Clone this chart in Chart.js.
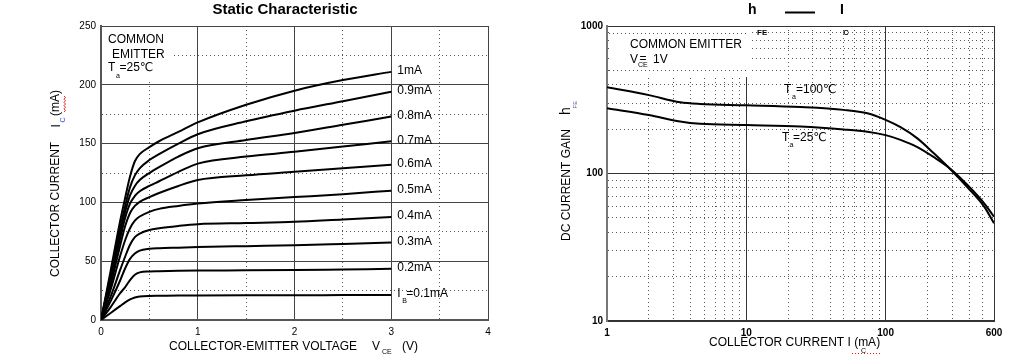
<!DOCTYPE html>
<html><head><meta charset="utf-8">
<script src="https://cdn.jsdelivr.net/npm/chart.js@4.4.1/dist/chart.umd.min.js"></script>
<style>
html,body{margin:0;padding:0;background:#fff;width:1013px;height:359px;overflow:hidden}
canvas{position:absolute;top:0}
#c1{left:0}
#c2{left:510px}
</style></head><body>
<canvas id="c1" width="510" height="359"></canvas>
<canvas id="c2" width="503" height="359"></canvas>
<script>
const FONT = "'Liberation Sans', Arial, 'DejaVu Sans', sans-serif";

// ---------- Left chart: static characteristic ----------
const vce  = [0, 0.1, 0.2, 0.25, 0.3, 0.35, 0.4, 0.5, 0.6, 0.8, 1, 1.5, 2, 2.5, 3];
const ib01 = [0, 6, 12, 15, 17.5, 19.2, 20, 20.5, 20.6, 20.8, 20.9, 21, 21, 21.2, 21.3];
const ib02 = [0, 11, 23, 28, 34, 38.5, 40.5, 41.3, 41.5, 41.8, 42, 42.2, 42.5, 43, 43.5];
const ib03 = [0, 16, 34, 44, 52, 56.5, 59, 60.5, 61, 61.5, 62, 62.8, 63.5, 64.7, 66];
const ib04 = [0, 20, 43, 54, 64, 70.5, 73.5, 76.5, 78, 80, 81.5, 82.5, 83.5, 85.5, 87.5];
const ib05 = [0, 26, 55, 68, 78, 84.5, 88, 92, 94.5, 97, 99, 102, 104.5, 107, 110];
const ib06 = [0, 30, 64, 80, 91, 97, 100.5, 104.5, 108, 114, 119, 123, 126, 129, 132];
const ib07 = [0, 34, 70, 87, 99, 105.5, 109.5, 114, 118, 126, 133, 139, 143, 147.5, 152];
const ib08 = [0, 37, 75, 92, 106, 114, 119, 125, 130, 139, 146, 153, 159, 166, 173];
const ib09 = [0, 39, 79, 97, 113, 123, 129, 136, 141, 150, 158, 169, 178, 186, 194];
const ib10 = [0, 42, 85, 104, 122, 135, 141, 147, 152, 160, 168, 183, 195, 204, 211];
const ibSeries = [ib01, ib02, ib03, ib04, ib05, ib06, ib07, ib08, ib09, ib10];
const ibLabels = ['=0.1mA', '0.2mA', '0.3mA', '0.4mA', '0.5mA', '0.6mA', '0.7mA', '0.8mA', '0.9mA', '1mA'];
const leftXLabels = [0, 1, 2, 3, 4];
const leftYLabels = [0, 50, 100, 150, 200, 250];

// ---------- Right chart: hFE vs Ic ----------
const icPts = [1, 2, 3.35, 4.66, 10, 24.5, 50, 74, 100, 128, 169, 222, 294, 387, 510, 600];
const h100  = [384, 340, 304, 296, 290, 282, 270, 256, 231, 206, 173, 137, 106, 80.6, 59.6, 46];
const h25   = [277, 249, 225, 217, 213, 208, 199, 192, 182, 169, 151, 129, 107, 83.6, 62.8, 51];
const rightXGrid = [1,2,3,4,5,6,7,8,9,10,20,30,40,50,60,70,80,90,100,200,300,400,500,600];
const rightYGrid = [10,20,30,40,50,60,70,80,90,100,200,300,400,500,600,700,800,900,1000];
const rightXLabels = [1, 10, 100, 600];
const rightYLabels = [10, 100, 1000];

const DOT = [1, 3];
function isDecade(v){ const l = Math.log10(v); return Math.abs(l - Math.round(l)) < 1e-9; }

function t(ctx, s, x, y, size, opts){
  opts = opts || {};
  ctx.save();
  ctx.font = (opts.bold ? 'bold ' : '') + size + 'px ' + FONT;
  ctx.fillStyle = opts.color || '#000';
  ctx.textAlign = opts.align || 'left';
  ctx.textBaseline = 'middle';
  ctx.fillText(s, x, y);
  ctx.restore();
}
function vt(ctx, s, x, y, size, opts){
  opts = opts || {};
  ctx.save();
  ctx.translate(x, y);
  ctx.rotate(-Math.PI/2);
  ctx.font = (opts.bold ? 'bold ' : '') + size + 'px ' + FONT;
  ctx.fillStyle = opts.color || '#000';
  ctx.textAlign = 'left';
  ctx.textBaseline = 'middle';
  ctx.fillText(s, 0, 0);
  ctx.restore();
}

const leftDecor = {
  id: 'leftDecor',
  beforeDatasetsDraw(chart){
    const ctx = chart.ctx;
    ctx.save();
    ctx.fillStyle = '#fff';
    ctx.fillRect(102, 27, 71, 55);
    ctx.restore();
  },
  afterDraw(chart){
    const ctx = chart.ctx;
    const xs = chart.scales.x, ys = chart.scales.y;
    // title
    t(ctx, 'Static Characteristic', 285, 10, 15, {bold:true, align:'center'});
    // annotation box
    t(ctx, 'COMMON', 108, 40, 12);
    t(ctx, 'EMITTER', 112, 54.5, 12);
    t(ctx, 'T', 108, 68, 12);
    t(ctx, 'a', 116, 76, 7);
    t(ctx, '=25℃', 119.5, 68, 12);
    // curve labels
    const lx = xs.getPixelForValue(vce[vce.length-1]) + 6;
    ibSeries.forEach((s, i) => {
      const y = ys.getPixelForValue(s[s.length-1]) - 1;
      if (i === 0) {
        t(ctx, 'I', lx, y, 12);
        t(ctx, 'B', lx + 5, y + 7, 7);
        t(ctx, ibLabels[i], lx + 9, y, 12);
      } else {
        t(ctx, ibLabels[i], lx, y, 12);
      }
    });
    // x axis title
    t(ctx, 'COLLECTOR-EMITTER VOLTAGE', 169, 347, 12);
    t(ctx, 'V', 372, 347, 12);
    t(ctx, 'CE', 382, 352.5, 7);
    t(ctx, '(V)', 402, 347, 12);
    // y axis title
    vt(ctx, 'COLLECTOR CURRENT', 56, 277, 12);
    vt(ctx, 'I', 57, 127.5, 12);
    vt(ctx, 'C', 63.5, 122.5, 7, {color:'#3a4fd0'});
    vt(ctx, '(mA)', 56, 116, 12);
    ctx.save();
    ctx.strokeStyle = '#e02020'; ctx.lineWidth = 1;
    ctx.beginPath();
    for (let k = 0; k <= 10; k++) {
      const yy = 112 - k * 1.6;
      const xx = 64 + (k % 2 ? 1.5 : 0);
      if (k === 0) ctx.moveTo(xx, yy); else ctx.lineTo(xx, yy);
    }
    ctx.stroke();
    ctx.restore();
  }
};

const rightDecor = {
  id: 'rightDecor',
  beforeDatasetsDraw(chart){
    const ctx = chart.ctx;
    const ys = chart.scales.y;
    ctx.save();
    ctx.translate(-510, 0);
    ctx.fillStyle = '#fff';
    ctx.fillRect(609, 27, 140, 50);
    ctx.strokeStyle = '#555';
    ctx.lineWidth = 1;
    ctx.setLineDash(DOT);
    [900, 500].forEach(v => {
      const y = Math.round(ys.getPixelForValue(v)) + 0.5;
      ctx.beginPath(); ctx.moveTo(609, y); ctx.lineTo(749, y); ctx.stroke();
    });
    ctx.restore();
  },
  afterDraw(chart){
    const ctx = chart.ctx;
    ctx.save();
    ctx.translate(-510, 0);
    // title
    t(ctx, 'h', 748, 10, 14, {bold:true});
    t(ctx, 'FE', 757, 32.5, 8, {bold:true});
    ctx.fillStyle = '#000';
    ctx.fillRect(785, 11.5, 30, 2);
    t(ctx, 'I', 840, 10, 14, {bold:true});
    t(ctx, 'C', 843, 32.5, 8, {bold:true});
    // annotations
    t(ctx, 'COMMON EMITTER', 630, 44.5, 12);
    t(ctx, 'V', 630, 60, 12);
    t(ctx, 'CE', 638, 65.5, 7);
    t(ctx, '=', 639.5, 59, 12);
    t(ctx, '1V', 653, 60, 12);
    t(ctx, 'T', 784, 90, 12);
    t(ctx, 'a', 792, 97.5, 7);
    t(ctx, '=100℃', 796, 90, 12);
    t(ctx, 'T', 782, 138, 12);
    t(ctx, 'a', 789.5, 145.5, 7);
    t(ctx, '=25℃', 793, 138, 12);
    // x axis title
    t(ctx, 'COLLECTOR CURRENT I (mA)', 709, 343, 12);
    t(ctx, 'C', 861, 351, 7);
    ctx.strokeStyle = '#e02020'; ctx.lineWidth = 1; ctx.setLineDash([1, 2]);
    ctx.beginPath(); ctx.moveTo(852, 353.5); ctx.lineTo(880, 353.5); ctx.stroke();
    ctx.setLineDash([]);
    // y axis title
    vt(ctx, 'DC CURRENT GAIN', 567, 241, 12);
    vt(ctx, 'h', 566, 115, 14);
    vt(ctx, 'FE', 575, 108.5, 6, {color:'#6a5aa8'});
    ctx.restore();
  }
};

function gridColor(isMajor){ return ctx => (ctx.tick && !isMajor(ctx.tick.value) ? '#555' : '#444'); }
function gridDash(isMajor){ return ctx => (ctx.tick && !isMajor(ctx.tick.value) ? DOT : []); }

const leftXMajor = v => Math.abs(v - Math.round(v)) < 1e-9;
const leftYMajor = v => Math.abs(v / 50 - Math.round(v / 50)) < 1e-9;

new Chart(document.getElementById('c1'), {
  type: 'line',
  data: {
    datasets: ibSeries.map((s, i) => ({
      label: ibLabels[i],
      data: vce.map((v, k) => ({x: v, y: s[k]})),
      borderColor: '#000',
      borderWidth: 2,
      pointRadius: 0,
      fill: false,
      cubicInterpolationMode: 'monotone'
    }))
  },
  options: {
    responsive: false,
    animation: false,
    devicePixelRatio: 1,
    layout: {padding: {top: 26, right: 22, left: 0, bottom: 0}},
    plugins: {legend: {display: false}, tooltip: {enabled: false}},
    scales: {
      x: {
        type: 'linear', min: 0, max: 4,
        afterFit: s => { s.height = 39; },
        ticks: {stepSize: 0.5, autoSkip: false, maxRotation: 0, padding: 6, color: '#000',
          font: {family: FONT, size: 10},
          callback: v => leftXLabels.includes(v) ? String(v) : ''},
        grid: {drawTicks: false, color: gridColor(leftXMajor), lineWidth: 1},
        border: {display: true, color: '#555', width: 2, dash: gridDash(leftXMajor)}
      },
      y: {
        type: 'linear', min: 0, max: 250,
        afterFit: s => { s.width = 101; },
        ticks: {stepSize: 25, autoSkip: false, padding: 5, color: '#000',
          font: {family: FONT, size: 10},
          callback: v => leftYLabels.includes(v) ? String(v) : ''},
        grid: {drawTicks: false, color: gridColor(leftYMajor), lineWidth: 1},
        border: {display: true, color: '#555', width: 2, dash: gridDash(leftYMajor)}
      }
    }
  },
  plugins: [leftDecor]
});

const rxMajor = v => isDecade(v) || v === 600;
const ryMajor = v => isDecade(v);

new Chart(document.getElementById('c2'), {
  type: 'line',
  data: {
    datasets: [
      {label: 'Ta=100℃', data: icPts.map((v, k) => ({x: v, y: h100[k]})),
       borderColor: '#000', borderWidth: 2, pointRadius: 0, fill: false, cubicInterpolationMode: 'monotone'},
      {label: 'Ta=25℃', data: icPts.map((v, k) => ({x: v, y: h25[k]})),
       borderColor: '#000', borderWidth: 2, pointRadius: 0, fill: false, cubicInterpolationMode: 'monotone'}
    ]
  },
  options: {
    responsive: false,
    animation: false,
    devicePixelRatio: 1,
    layout: {padding: {top: 26, right: 19, left: 0, bottom: 0}},
    plugins: {legend: {display: false}, tooltip: {enabled: false}},
    scales: {
      x: {
        type: 'logarithmic', min: 1, max: 600,
        afterFit: s => { s.height = 38; },
        afterBuildTicks: s => { s.ticks = rightXGrid.map(v => ({value: v})); },
        ticks: {autoSkip: false, maxRotation: 0, padding: 6, color: '#000',
          font: {family: FONT, size: 10, weight: 'bold'},
          callback: v => rightXLabels.includes(v) ? String(v) : ''},
        grid: {drawTicks: false, color: ctx => (ctx.tick && !rxMajor(ctx.tick.value) ? '#555' : '#333'), lineWidth: 1},
        border: {display: true, color: '#333', width: 2, dash: gridDash(rxMajor)}
      },
      y: {
        type: 'logarithmic', min: 10, max: 1000,
        afterFit: s => { s.width = 97; },
        afterBuildTicks: s => { s.ticks = rightYGrid.map(v => ({value: v})); },
        ticks: {autoSkip: false, padding: 4, color: '#000',
          font: {family: FONT, size: 10, weight: 'bold'},
          callback: v => rightYLabels.includes(v) ? String(v) : ''},
        grid: {drawTicks: false, color: ctx => (ctx.tick && !ryMajor(ctx.tick.value) ? '#555' : '#333'), lineWidth: 1},
        border: {display: true, color: '#777', width: 2, dash: gridDash(ryMajor)}
      }
    }
  },
  plugins: [rightDecor]
});
</script>
</body></html>
